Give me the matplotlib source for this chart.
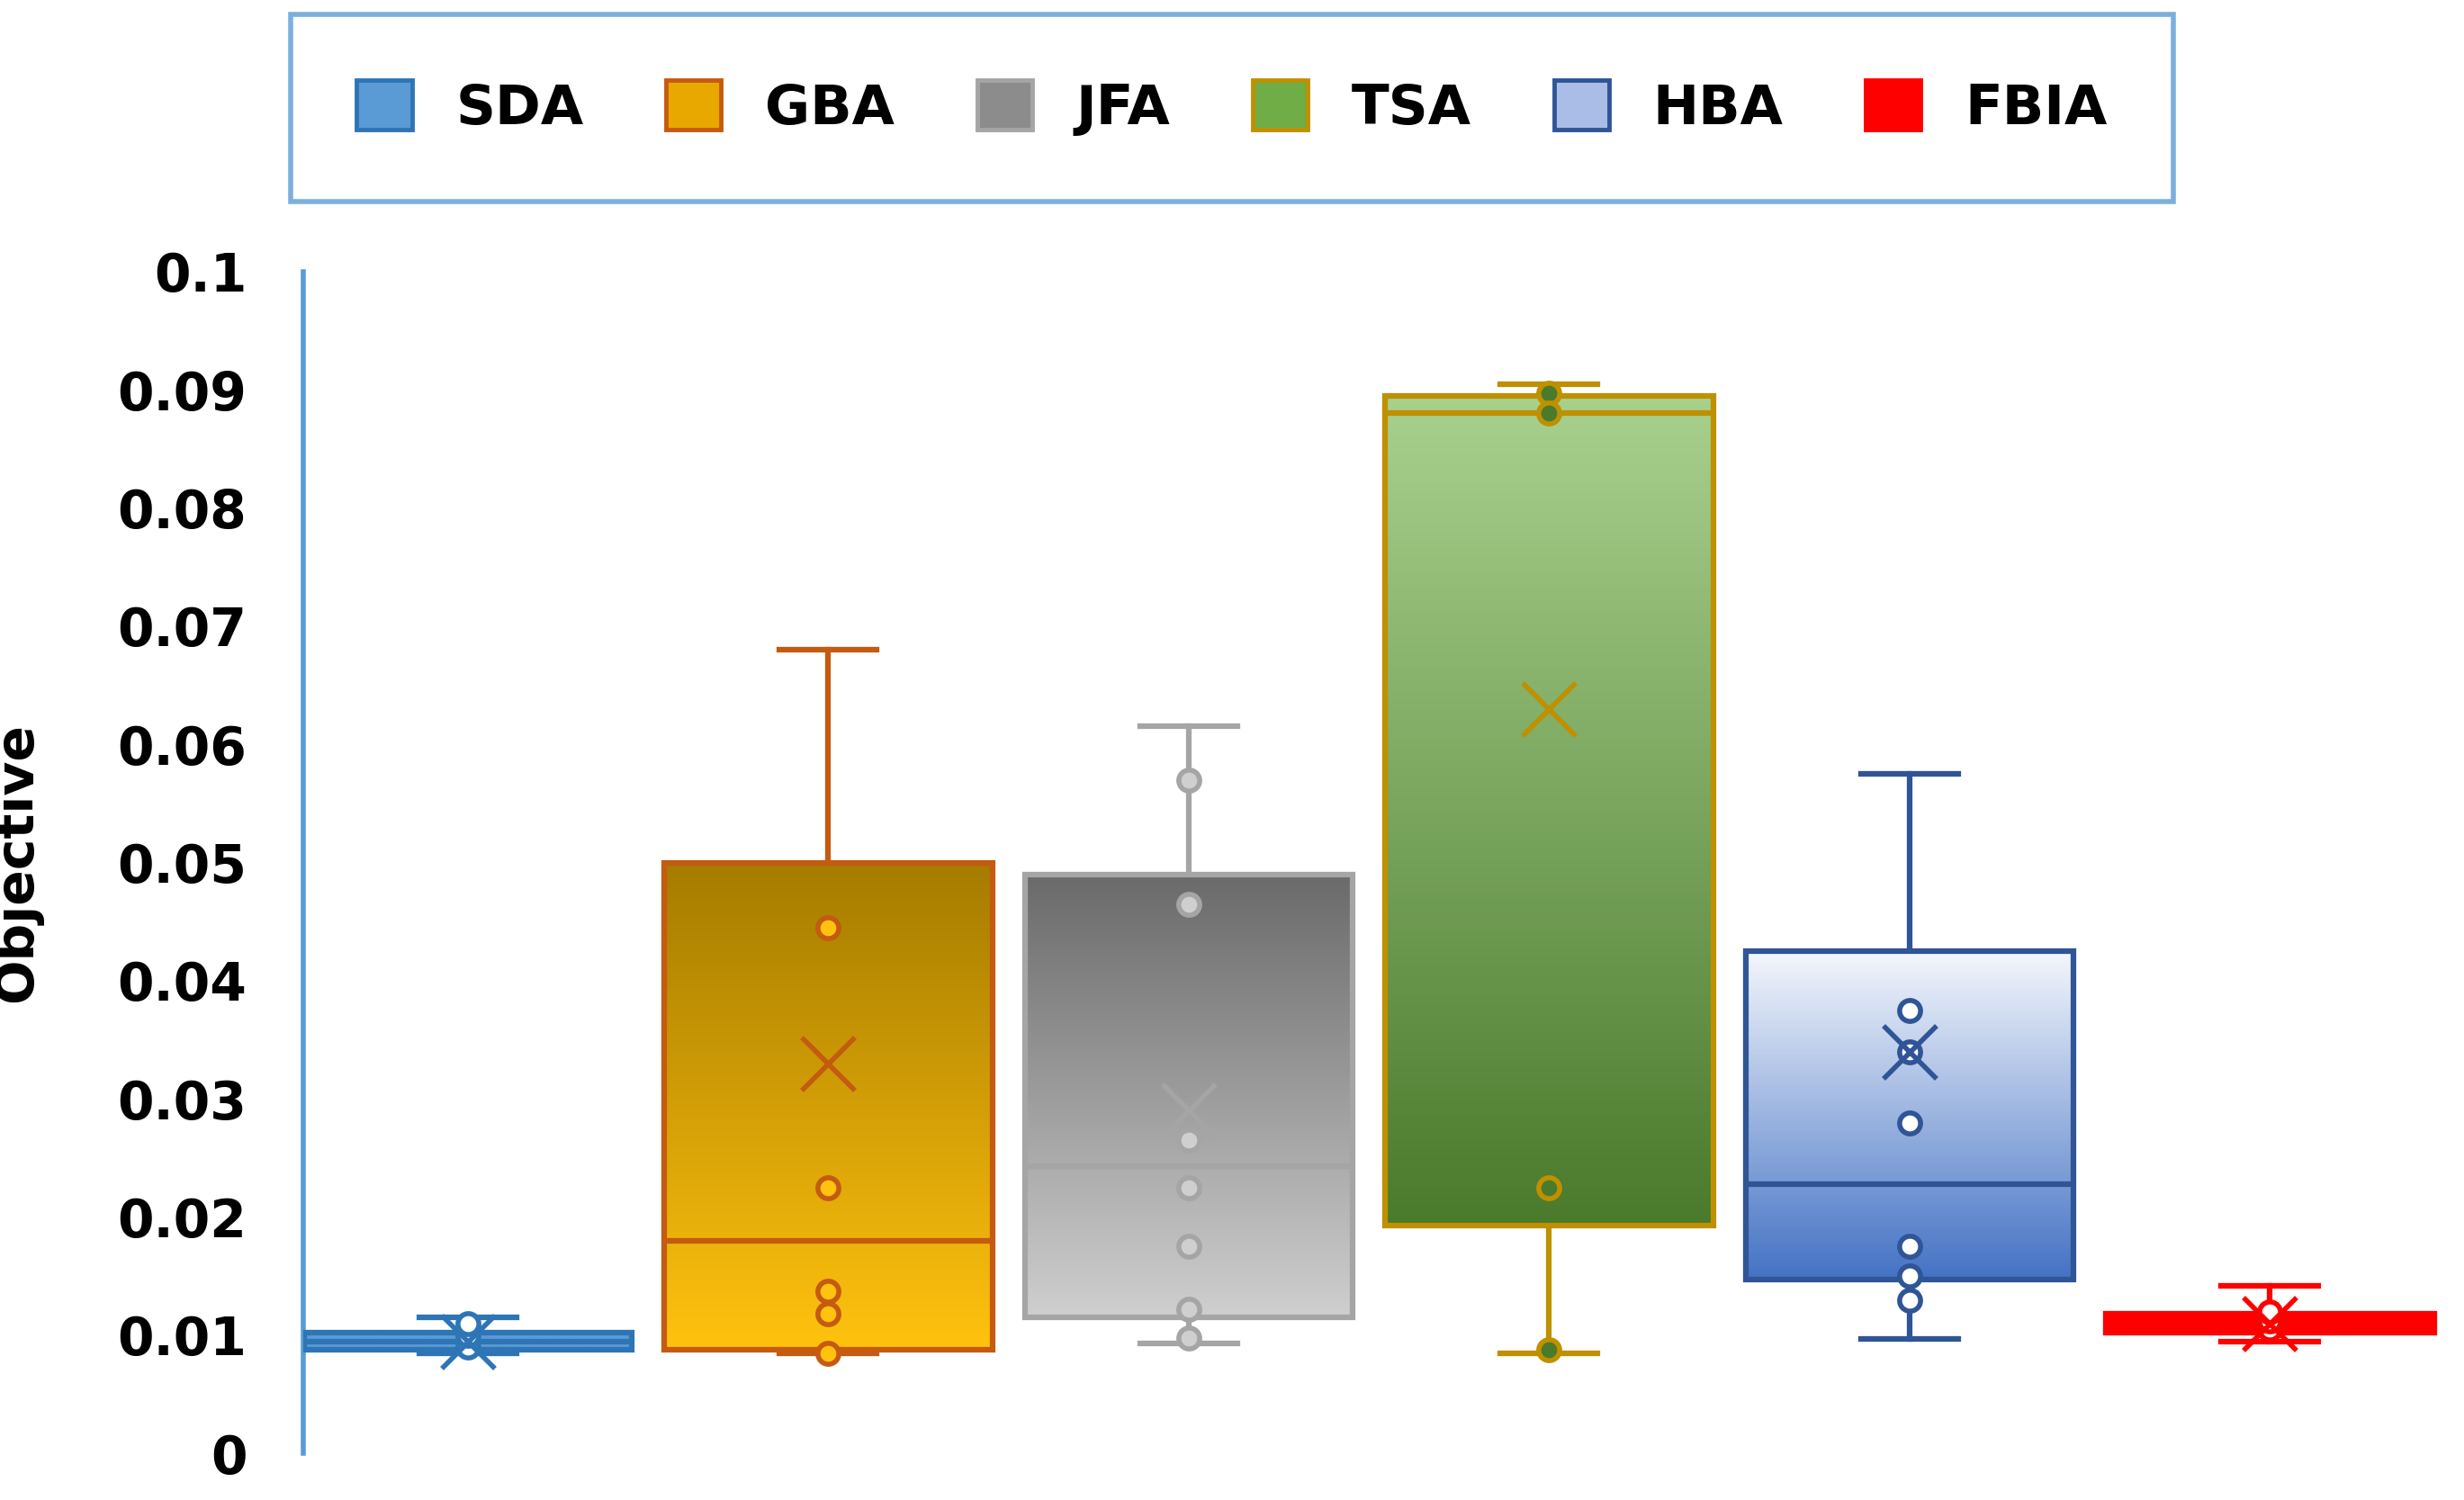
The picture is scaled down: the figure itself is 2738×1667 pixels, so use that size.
import numpy as np
import matplotlib
matplotlib.use("Agg")
import matplotlib.pyplot as plt
from matplotlib.patches import Patch
from matplotlib.colors import LinearSegmentedColormap

names = ["SDA", "GBA", "JFA", "TSA", "HBA", "FBIA"]
q1 = [0.0088, 0.0088, 0.0115, 0.0193, 0.0147, 0.0102]
med = [0.0095, 0.0180, 0.0243, 0.0880, 0.0228, 0.0110]
q3 = [0.0102, 0.0500, 0.0490, 0.0895, 0.0425, 0.0118]
wlo = [0.0085, 0.0085, 0.0093, 0.0085, 0.0097, 0.0095]
whi = [0.0115, 0.0680, 0.0615, 0.0905, 0.0575, 0.0142]
means = [0.0095, 0.0330, 0.0290, 0.0630, 0.0340, 0.0110]
points = [
    [0.0090, 0.0100, 0.0110],
    [0.0445, 0.0225, 0.0137, 0.0118, 0.0085],
    [0.0570, 0.0465, 0.0265, 0.0225, 0.0175, 0.0122, 0.0098],
    [0.0897, 0.0880, 0.0225, 0.0088],
    [0.0375, 0.0340, 0.0280, 0.0175, 0.0150, 0.0130],
    [0.0105, 0.0112, 0.0120],
]
edges = ["#2e75b6", "#c55a11", "#a5a5a5", "#bf9000", "#2f5597", "#ff0000"]
# gradient top -> bottom
grads = [("#5b9bd5", "#5b9bd5"), ("#a67c00", "#ffc20e"), ("#6a6a6a", "#cfcfcf"),
         ("#a9d18e", "#4a7a2c"), ("#f4f7fc", "#4472c4"), ("#ff0000", "#ff0000")]
legend_fc = ["#5b9bd5", "#e8a800", "#8c8c8c", "#70ad47", "#a9bde6", "#ff0000"]

fig = plt.figure(figsize=(27.38, 16.67), dpi=100)
ax = fig.add_axes([0.123, 0.031, 0.867, 0.788])
stats = [dict(q1=a, med=m, q3=b, whislo=lo, whishi=hi, mean=mn, fliers=[])
         for a, m, b, lo, hi, mn in zip(q1, med, q3, wlo, whi, means)]
pos = np.arange(1, 7)
bp = ax.bxp(stats, positions=pos, widths=0.91, patch_artist=True, showmeans=False,
            showfliers=False, capwidths=0.27)
for i, box in enumerate(bp["boxes"]):
    box.set_facecolor("none"); box.set_edgecolor(edges[i]); box.set_linewidth(4.5); box.set_zorder(3)
    cmap = LinearSegmentedColormap.from_list("g", [grads[i][0], grads[i][1]])
    img = ax.imshow(np.linspace(0, 1, 256).reshape(-1, 1), cmap=cmap, aspect="auto",
                    extent=[pos[i] - 0.455, pos[i] + 0.455, q1[i], q3[i]], origin="upper", zorder=2)
    img.set_clip_path(box)
    bp["medians"][i].set_color(edges[i]); bp["medians"][i].set_linewidth(4.5); bp["medians"][i].set_zorder(4)
    for ln in bp["whiskers"][2 * i:2 * i + 2] + bp["caps"][2 * i:2 * i + 2]:
        ln.set_color(edges[i]); ln.set_linewidth(4.5)
    ax.scatter([pos[i]] * len(points[i]), points[i], s=280,
               facecolor=grads[i][1] if i in (1, 2, 3) else "white",
               edgecolor=edges[i], linewidth=4, zorder=5)
    ax.scatter([pos[i]], [means[i]], marker="x", s=1800, color=edges[i], linewidth=4, zorder=6)

ax.set_xlim(0.543, 6.47)
ax.set_ylim(0, 0.1)
ax.set_yticks(np.arange(0, 0.101, 0.01))
ax.set_yticklabels(["0", "0.01", "0.02", "0.03", "0.04", "0.05", "0.06", "0.07", "0.08", "0.09", "0.1"])
ax.set_xticks([])
for s in ["top", "right", "bottom"]:
    ax.spines[s].set_visible(False)
ax.spines["left"].set_color("#5b9bd5"); ax.spines["left"].set_linewidth(4)
ax.tick_params(axis="y", length=0, labelsize=42, pad=45)
for t in ax.get_yticklabels():
    t.set_fontweight("bold")
ax.set_ylabel("Objective", fontsize=42, fontweight="bold", labelpad=60)

handles = [Patch(facecolor=legend_fc[i], edgecolor=edges[i], linewidth=3.5) for i in range(6)]
leg = fig.legend(handles, names, loc="center", bbox_to_anchor=(0.5, 0.928), ncol=6,
                 prop={"weight": "bold", "size": 44}, frameon=True, fancybox=False,
                 handlelength=1.0, handleheight=1.0, columnspacing=1.5, borderpad=1.2,
                 handletextpad=0.8, borderaxespad=0)
leg.get_frame().set_edgecolor("#5b9bd5"); leg.get_frame().set_linewidth(4)
fig.savefig("out.png", dpi=100)
